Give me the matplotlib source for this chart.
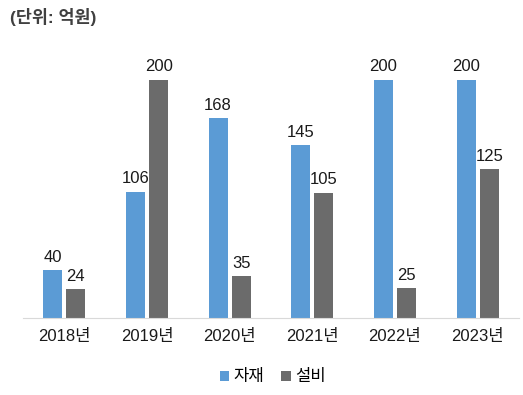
import numpy as np
import matplotlib
matplotlib.use('Agg')
import matplotlib.pyplot as plt

plt.rcParams['font.family'] = ['Liberation Sans', 'Noto Sans CJK KR', 'DejaVu Sans']

# --- data ---
years = ['2018년', '2019년', '2020년', '2021년', '2022년', '2023년']
material = [40, 106, 168, 145, 200, 200]
equipment = [24, 200, 35, 105, 25, 125]
series_names = ['자재', '설비']
colors = ['#5B9BD5', '#6B6B6B']

fig = plt.figure(figsize=(5.23, 3.95), dpi=100)
ax = fig.add_axes([23 / 523, (395 - 318) / 395, 496 / 523, 278 / 395])

x = np.arange(len(years))
w = 0.23
gap = 0.025
b1 = ax.bar(x - w / 2 - gap, material, w, color=colors[0], label=series_names[0])
b2 = ax.bar(x + w / 2 + gap, equipment, w, color=colors[1], label=series_names[1])

for bars in (b1, b2):
    ax.bar_label(bars, padding=4, fontsize=12, color='#1a1a1a')

ax.set_xlim(-0.5, len(years) - 0.5)
ax.set_ylim(0, 233.6)
ax.set_yticks([])
ax.set_xticks(x)
ax.set_xticklabels(years, fontsize=12, color='#1a1a1a')
ax.tick_params(axis='x', length=0, pad=8)
for s in ['top', 'right', 'left']:
    ax.spines[s].set_visible(False)
ax.spines['bottom'].set_color('#D9D9D9')

fig.text(10 / 523, 1 - 17 / 395, '(단위: 억원)', fontsize=12.5, fontweight='bold',
         color='#404040', va='center', ha='left')

fig.legend(loc='center', bbox_to_anchor=(273 / 523, 1 - 377 / 395), ncol=2,
           frameon=False, fontsize=12, handlelength=0.55, handleheight=0.55,
           handletextpad=0.3, columnspacing=1.0)

fig.savefig('out.png', dpi=100)
